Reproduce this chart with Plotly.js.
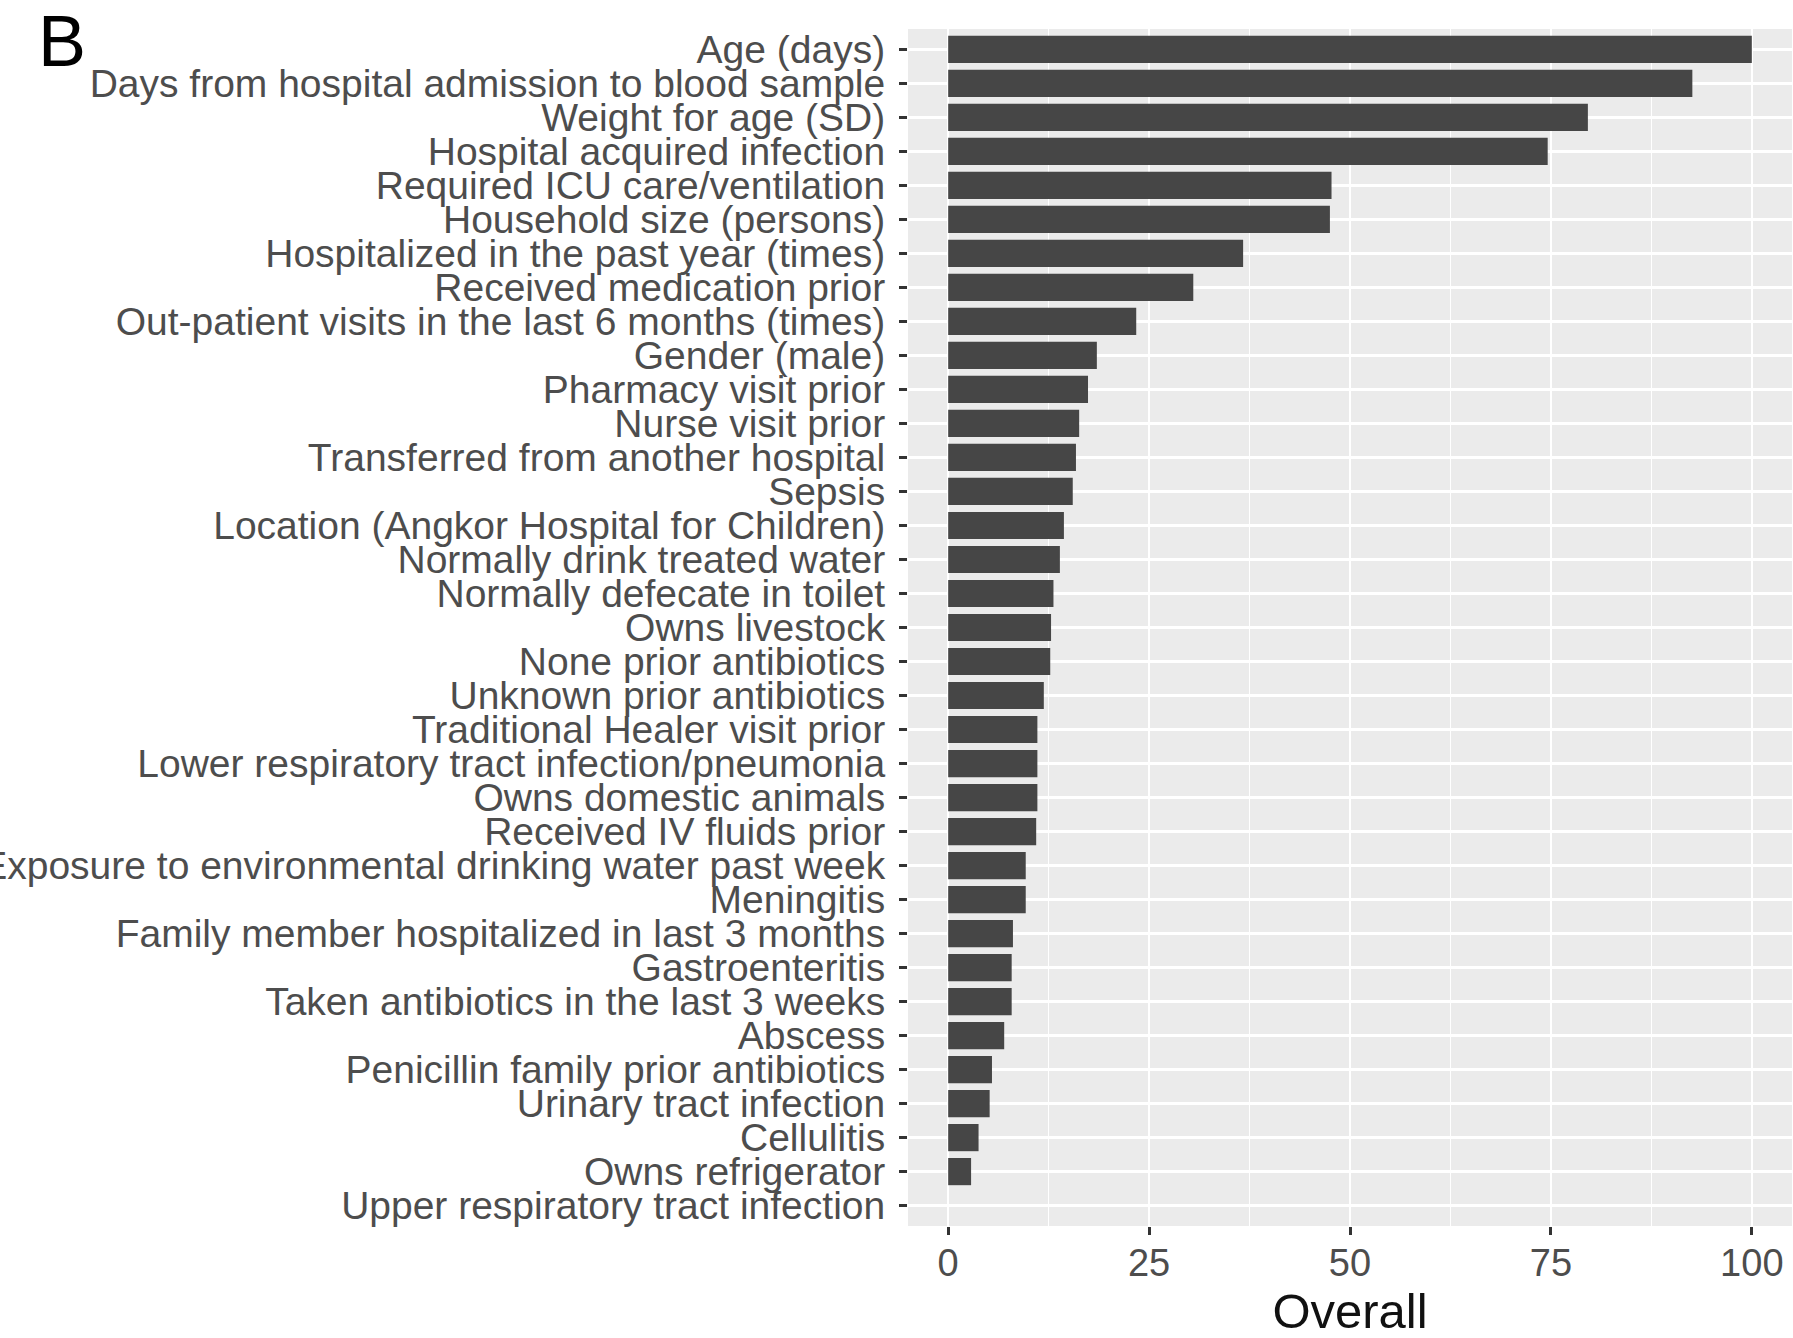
<!DOCTYPE html>
<html>
<head>
<meta charset="utf-8">
<script src="https://cdn.plot.ly/plotly-3.0.1.min.js"></script>
<style>
  html, body { margin: 0; padding: 0; background: #ffffff; }
  #chart { width: 1793px; height: 1338px; }
</style>
</head>
<body>
<div id="chart"></div>
<script>
// Variable importance ("Overall"), listed from most to least important
const variables = [
  "Age (days)",
  "Days from hospital admission to blood sample",
  "Weight for age (SD)",
  "Hospital acquired infection",
  "Required ICU care/ventilation",
  "Household size (persons)",
  "Hospitalized in the past year (times)",
  "Received medication prior",
  "Out-patient visits in the last 6 months (times)",
  "Gender (male)",
  "Pharmacy visit prior",
  "Nurse visit prior",
  "Transferred from another hospital",
  "Sepsis",
  "Location (Angkor Hospital for Children)",
  "Normally drink treated water",
  "Normally defecate in toilet",
  "Owns livestock",
  "None prior antibiotics",
  "Unknown prior antibiotics",
  "Traditional Healer visit prior",
  "Lower respiratory tract infection/pneumonia",
  "Owns domestic animals",
  "Received IV fluids prior",
  "Exposure to environmental drinking water past week",
  "Meningitis",
  "Family member hospitalized in last 3 months",
  "Gastroenteritis",
  "Taken antibiotics in the last 3 weeks",
  "Abscess",
  "Penicillin family prior antibiotics",
  "Urinary tract infection",
  "Cellulitis",
  "Owns refrigerator",
  "Upper respiratory tract infection"
];

const overall = [
  100, 92.6, 79.6, 74.6, 47.7, 47.5, 36.7, 30.5, 23.4, 18.5,
  17.4, 16.3, 15.9, 15.5, 14.4, 13.9, 13.1, 12.8, 12.7, 11.9,
  11.1, 11.1, 11.1, 10.95, 9.65, 9.65, 8.06, 7.9, 7.9, 6.97,
  5.45, 5.16, 3.78, 2.85, 0
];

const xTicks = [0, 25, 50, 75, 100];

const trace = {
  type: "bar",
  orientation: "h",
  x: overall,
  y: variables,
  width: 0.8,
  marker: { color: "#464646", line: { width: 0 } },
  hoverinfo: "x+y"
};

const font = "'Liberation Sans', Arial, Helvetica, sans-serif";

// plot area: x from 908 to 1792, y from 29 to 1226
const plotW = 1793 - 908 - 1;
const plotH = 1338 - 29 - 112;

const layout = {
  width: 1793,
  height: 1338,
  margin: { l: 908, r: 1, t: 29, b: 112 },
  paper_bgcolor: "#ffffff",
  plot_bgcolor: "#EBEBEB",
  showlegend: false,
  font: { family: font, color: "#4D4D4D" },
  xaxis: {
    range: [-5, 105],
    tickmode: "array",
    tickvals: xTicks,
    ticktext: xTicks.map(String),
    ticks: "outside",
    ticklen: 8,
    tickwidth: 3,
    tickcolor: "#333333",
    ticklabelstandoff: -5,
    tickfont: { size: 38, color: "#4D4D4D", family: font },
    showgrid: true,
    gridcolor: "#ffffff",
    gridwidth: 2.4,
    minor: { dtick: 12.5, tick0: 12.5, showgrid: true, gridcolor: "#ffffff", gridwidth: 1.2, ticks: "" },
    zeroline: false,
    showline: false,
    title: { text: "Overall", font: { size: 49, color: "#111111", family: font }, standoff: 21 }
  },
  yaxis: {
    type: "category",
    categoryorder: "array",
    categoryarray: variables,
    tickmode: "array",
    tickvals: variables,
    ticktext: variables,
    range: [variables.length - 0.4, -0.6],
    ticks: "outside",
    ticklen: 8,
    tickwidth: 3,
    tickcolor: "#333333",
    ticklabelstandoff: 6,
    tickfont: { size: 39, color: "#4D4D4D", family: font },
    showgrid: true,
    gridcolor: "#ffffff",
    gridwidth: 2.4,
    zeroline: false,
    showline: false
  },
  annotations: [{
    text: "B",
    xref: "paper", yref: "paper",
    x: (36 - 908) / plotW, y: 1 + 30 / plotH,
    xanchor: "left", yanchor: "top",
    showarrow: false,
    font: { size: 72, color: "#000000", family: font }
  }]
};

Plotly.newPlot("chart", [trace], layout, { displayModeBar: false, staticPlot: true });
</script>
</body>
</html>
